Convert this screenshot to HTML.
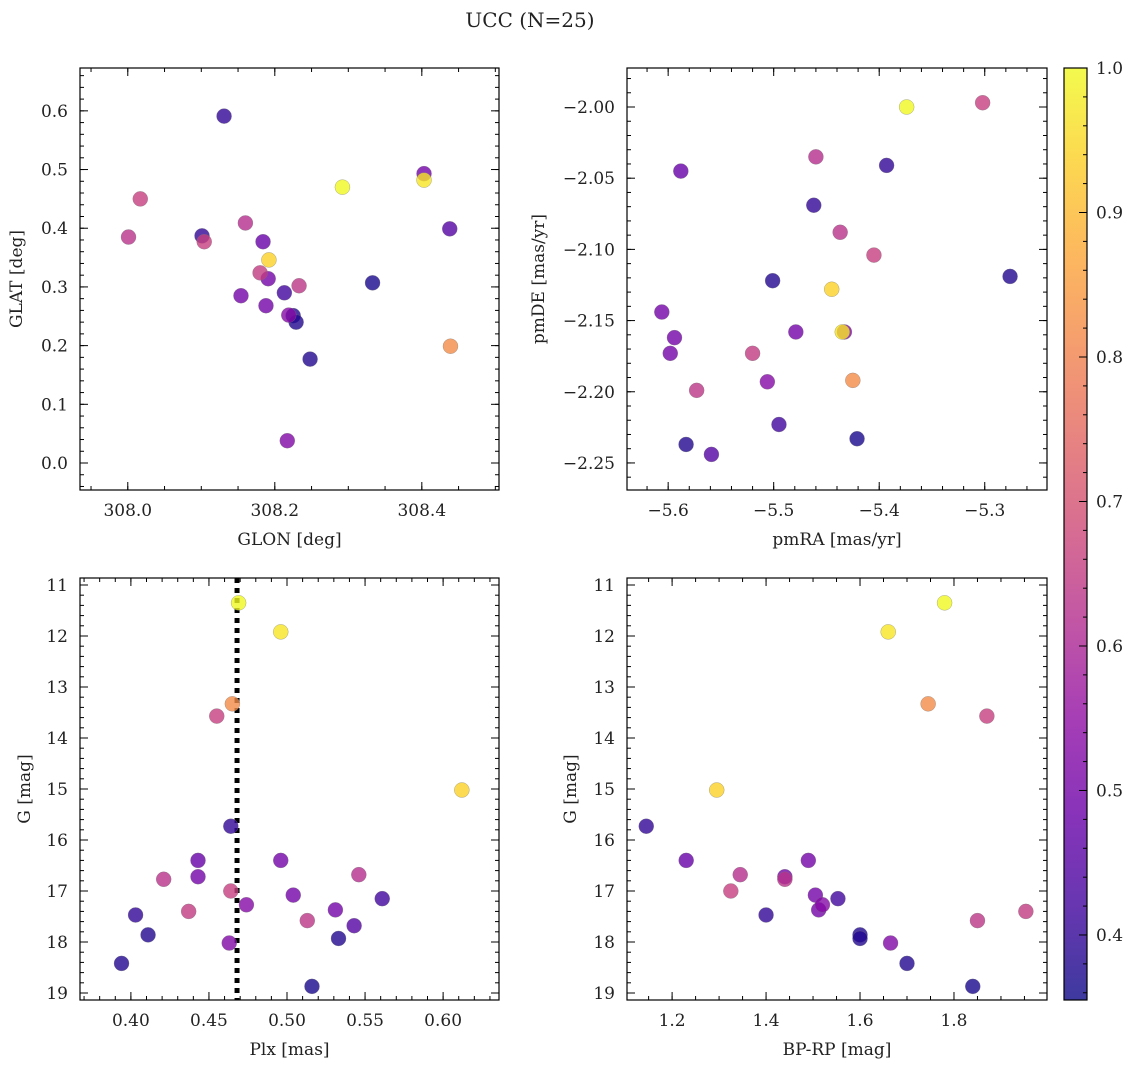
<!DOCTYPE html>
<html><head><meta charset="utf-8"><style>
body{margin:0;background:#fff}
svg text{font-family:"DejaVu Serif","Liberation Serif",serif;fill:#222}
</style></head><body>
<svg id="fig" width="1136" height="1067" xmlns="http://www.w3.org/2000/svg">
<text x="530" y="27" font-size="20" text-anchor="middle">UCC (N=25)</text>
</svg>
<script>
const probs=[1.0,0.97,0.82,0.66,0.94,0.40,0.48,0.50,0.62,0.50,0.63,0.66,0.50,0.42,0.53,0.50,0.65,0.40,0.64,0.45,0.38,0.38,0.52,0.38,0.37];
const glon=[308.292,308.403,308.439,308.017,308.192,308.131,308.184,308.154,308.160,308.191,308.001,308.104,308.188,308.213,308.219,308.403,308.180,308.101,308.233,308.438,308.225,308.229,308.217,308.248,308.333];
const glat=[0.470,0.482,0.199,0.450,0.346,0.591,0.377,0.285,0.409,0.314,0.385,0.377,0.268,0.290,0.252,0.493,0.324,0.387,0.302,0.399,0.251,0.240,0.038,0.177,0.307];
const pmra=[-5.374,-5.435,-5.425,-5.302,-5.445,-5.393,-5.588,-5.606,-5.460,-5.594,-5.437,-5.405,-5.479,-5.495,-5.506,-5.598,-5.520,-5.462,-5.573,-5.559,-5.501,-5.276,-5.433,-5.583,-5.421];
const pmde=[-2.000,-2.158,-2.192,-1.997,-2.128,-2.041,-2.045,-2.144,-2.035,-2.162,-2.088,-2.104,-2.158,-2.223,-2.193,-2.173,-2.173,-2.069,-2.199,-2.244,-2.122,-2.119,-2.158,-2.237,-2.233];
const plx=[0.469,0.496,0.465,0.455,0.612,0.464,0.443,0.496,0.546,0.443,0.421,0.464,0.504,0.561,0.474,0.531,0.437,0.403,0.513,0.543,0.411,0.533,0.463,0.394,0.516];
const gmag=[11.35,11.92,13.33,13.57,15.02,15.73,16.40,16.40,16.68,16.72,16.77,17.00,17.08,17.15,17.27,17.37,17.40,17.47,17.58,17.68,17.86,17.93,18.02,18.42,18.87];
const bprp=[1.78,1.66,1.745,1.87,1.295,1.145,1.23,1.49,1.345,1.44,1.44,1.325,1.505,1.553,1.52,1.512,1.953,1.40,1.85,null,1.60,1.60,1.665,1.70,1.84];
const plxLine=0.468;
const cbTicks=[0.4,0.5,0.6,0.7,0.8,0.9,1.0];

const NS="http://www.w3.org/2000/svg",svg=document.getElementById('fig');
function mk(t,a,p){const e=document.createElementNS(NS,t);for(const k in a)e.setAttribute(k,a[k]);(p||svg).appendChild(e);return e;}
const stops=[[13,8,135],[65,4,157],[106,0,168],[143,13,164],[177,42,144],[204,71,120],[225,100,98],[242,132,75],[252,166,54],[252,206,37],[240,249,33]];
function plasma(t){t=Math.max(0,Math.min(1,t))*10;const i=Math.min(9,Math.floor(t)),f=t-i;const a=stops[i],b=stops[i+1];return `rgb(${a.map((v,k)=>Math.round(v+(b[k]-v)*f)).join(',')})`;}
const vmin=0.355,vmax=1.0;
function fmt(v,d){return (v<0?'\u2212':'')+Math.abs(v).toFixed(d);}

function panel(o){
  const g=mk('g',{});
  
  
  const sx=v=>o.x0+(v-o.xmin)/(o.xmax-o.xmin)*(o.x1-o.x0);
  const sy=o.yinv?v=>o.y0+(v-o.ymin)/(o.ymax-o.ymin)*(o.y1-o.y0):v=>o.y1-(v-o.ymin)/(o.ymax-o.ymin)*(o.y1-o.y0);
  const W=o.x1-o.x0,H=o.y1-o.y0;
  function ticks(lo,hi,step){const r=[];for(let v=Math.ceil(lo/step-1e-6)*step;v<=hi+1e-9;v+=step)r.push(+v.toFixed(6));return r;}
  const tg=mk('g',{stroke:'#000','stroke-width':1},g);
  ticks(o.xmin,o.xmax,o.xminor).forEach(v=>{const x=sx(v);mk('line',{x1:x,x2:x,y1:o.y1,y2:o.y1-4},tg);mk('line',{x1:x,x2:x,y1:o.y0,y2:o.y0+4},tg);});
  ticks(o.ymin,o.ymax,o.yminor).forEach(v=>{const y=sy(v);mk('line',{x1:o.x0,x2:o.x0+4,y1:y,y2:y},tg);mk('line',{x1:o.x1,x2:o.x1-4,y1:y,y2:y},tg);});
  ticks(o.xmin,o.xmax,o.xmajor).forEach(v=>{const x=sx(v);mk('line',{x1:x,x2:x,y1:o.y1,y2:o.y1-8},tg);mk('line',{x1:x,x2:x,y1:o.y0,y2:o.y0+8},tg);
    const t=mk('text',{x:x,y:o.y1+26,'font-size':17,'text-anchor':'middle'},g);t.textContent=fmt(v,o.xd);
    
    });
  ticks(o.ymin,o.ymax,o.ymajor).forEach(v=>{const y=sy(v);mk('line',{x1:o.x0,x2:o.x0+8,y1:y,y2:y},tg);mk('line',{x1:o.x1,x2:o.x1-8,y1:y,y2:y},tg);
    const t=mk('text',{x:o.x0-12,y:y+6,'font-size':17,'text-anchor':'end'},g);t.textContent=fmt(v,o.yd);
    
    });
  if(o.vline!=null){const x=sx(o.vline);const l=mk('line',{x1:x,x2:x,y1:o.y0,y2:o.y1,stroke:'#000','stroke-width':5,'stroke-dasharray':'5 5'},g);
    
    }
  const idx=probs.map((p,i)=>i).sort((a,b)=>probs[a]-probs[b]);
  idx.forEach(i=>{const xv=o.xs[i],yv=o.ys[i];if(xv==null||yv==null)return;
    const c=mk('circle',{cx:sx(xv),cy:sy(yv),r:7.5,fill:plasma((probs[i]-vmin)/(vmax-vmin)),'fill-opacity':0.8,stroke:'#777','stroke-width':0.5,'stroke-opacity':0.6},g);
    
    });
  mk('rect',{x:o.x0,y:o.y0,width:W,height:H,fill:'none',stroke:'#000','stroke-width':1.2},g);
  const xl=mk('text',{x:(o.x0+o.x1)/2,y:o.y1+55,'font-size':17,'text-anchor':'middle'},g);xl.textContent=o.xlabel;
  
  
  const cy=(o.y0+o.y1)/2;const yl=mk('text',{x:o.ylx,y:cy,'font-size':17,'text-anchor':'middle',transform:`rotate(-90 ${o.ylx} ${cy})`},g);yl.textContent=o.ylabel;
  
  
}
panel({name:'glon-glat-panel',x0:80,x1:499,y0:68,y1:490,xmin:307.935,xmax:308.505,ymin:-0.046,ymax:0.673,xmajor:0.2,xminor:0.05,ymajor:0.1,yminor:0.02,xd:1,yd:1,xs:glon,ys:glat,xlabel:'GLON [deg]',ylabel:'GLAT [deg]',ylx:22});
panel({name:'pm-panel',x0:627,x1:1047,y0:68,y1:490,xmin:-5.639,xmax:-5.241,ymin:-2.269,ymax:-1.9726,xmajor:0.1,xminor:0.02,ymajor:0.05,yminor:0.01,xd:1,yd:2,xs:pmra,ys:pmde,xlabel:'pmRA [mas/yr]',ylabel:'pmDE [mas/yr]',ylx:544});
panel({name:'plx-g-panel',x0:80,x1:499,y0:578,y1:1000,xmin:0.3674,xmax:0.6358,ymin:10.863,ymax:19.137,yinv:true,xmajor:0.05,xminor:0.01,ymajor:1,yminor:0.2,xd:2,yd:0,xs:plx,ys:gmag,xlabel:'Plx [mas]',ylabel:'G [mag]',ylx:30,vline:plxLine});
panel({name:'cmd-panel',x0:627,x1:1047,y0:578,y1:1000,xmin:1.104,xmax:1.998,ymin:10.863,ymax:19.137,yinv:true,xmajor:0.2,xminor:0.05,ymajor:1,yminor:0.2,xd:1,yd:0,xs:bprp,ys:gmag,xlabel:'BP-RP [mag]',ylabel:'G [mag]',ylx:576});
const cb=mk('g',{});


const defs=mk('defs',{});const lg=mk('linearGradient',{id:'pl',x1:0,y1:1,x2:0,y2:0},defs);
for(let k=0;k<=10;k++)mk('stop',{offset:k/10,'stop-color':plasma(k/10),'stop-opacity':0.8},lg);
const cx0=1064,cx1=1087,cy0=68,cy1=1000;
mk('rect',{x:cx0,y:cy0,width:cx1-cx0,height:cy1-cy0,fill:'url(#pl)'},cb);
mk('rect',{x:cx0,y:cy0,width:cx1-cx0,height:cy1-cy0,fill:'none',stroke:'#000','stroke-width':1.2},cb);
const csy=v=>cy1-(v-vmin)/(vmax-vmin)*(cy1-cy0);
for(let v=0.36;v<=1.0001;v+=0.02){const y=csy(v);mk('line',{x1:cx1,x2:cx1-4,y1:y,y2:y,stroke:'#000'},cb);}
cbTicks.forEach(v=>{const y=csy(v);mk('line',{x1:cx1,x2:cx1-8,y1:y,y2:y,stroke:'#000'},cb);
  const t=mk('text',{x:cx1+9,y:y+6,'font-size':17},cb);t.textContent=v.toFixed(1);
  
  });
</script>
</body></html>
